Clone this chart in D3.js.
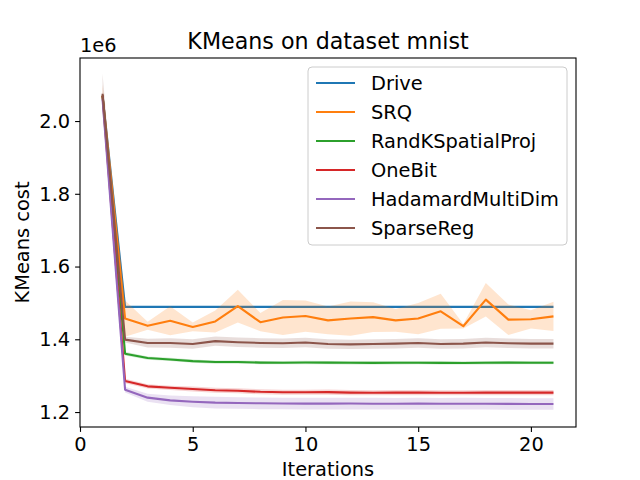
<!DOCTYPE html>
<html>
<head>
<meta charset="utf-8">
<script src="https://cdn.jsdelivr.net/npm/d3@7"></script>
<style>
  body { margin: 0; background: #fff; }
  text { font-family: "DejaVu Sans", sans-serif; fill: #000; }
</style>
</head>
<body>
<div id="chart"></div>
<script>
(function(){

  var width = 640;
  var height = 480;
  var margin = {top: 58, right: 64, bottom: 53, left: 80};
  var fontSize = '19.4px';

  // iterations 1..21, costs in units of 1e6
  var iterations = d3.range(1, 22);
  var xTicks = [0, 5, 10, 15, 20];
  var yTicks = [1.2, 1.4, 1.6, 1.8, 2.0];

  var seriesNames = ['Drive', 'SRQ', 'RandKSpatialProj', 'OneBit', 'HadamardMultiDim', 'SparseReg'];
  var colors = ['#1f77b4', '#ff7f0e', '#2ca02c', '#d62728', '#9467bd', '#8c564b'];

  var driveMean = [2.07, 1.489, 1.489, 1.489, 1.489, 1.489, 1.489, 1.489, 1.489, 1.489, 1.489,
                   1.489, 1.489, 1.489, 1.489, 1.489, 1.489, 1.489, 1.489, 1.489, 1.489];
  var driveSd   = [0.005, 0, 0, 0, 0, 0, 0, 0, 0, 0, 0, 0, 0, 0, 0, 0, 0, 0, 0, 0, 0];

  var srqMean = [2.07, 1.457, 1.437, 1.451, 1.434, 1.449, 1.491, 1.447, 1.460, 1.464, 1.452,
                 1.457, 1.461, 1.452, 1.457, 1.477, 1.436, 1.509, 1.454, 1.455, 1.463];
  var srqSd   = [0.03, 0.050, 0.011, 0.040, 0.012, 0.030, 0.045, 0.025, 0.048, 0.043, 0.038,
                 0.047, 0.041, 0.031, 0.043, 0.048, 0.006, 0.046, 0.042, 0.025, 0.040];

  var randkMean = [2.07, 1.3605, 1.3485, 1.3445, 1.340, 1.3375, 1.3375, 1.336, 1.3357, 1.3362, 1.3358,
                   1.3355, 1.3352, 1.3355, 1.3356, 1.3352, 1.335, 1.3355, 1.3358, 1.3356, 1.3357];
  var randkSd   = [0.01, 0.005, 0.0045, 0.0045, 0.0045, 0.0045, 0.0045, 0.0045, 0.0045, 0.0045, 0.0045,
                   0.0045, 0.0045, 0.0045, 0.0045, 0.0045, 0.0045, 0.0045, 0.0045, 0.0045, 0.0045];

  var onebitMean = [2.07, 1.2852, 1.2707, 1.2666, 1.2633, 1.260, 1.2585, 1.2557, 1.2545, 1.2545, 1.2548,
                    1.2535, 1.253, 1.2533, 1.2535, 1.253, 1.253, 1.2533, 1.2535, 1.2533, 1.2533];
  var onebitSd   = [0.01, 0.006, 0.006, 0.006, 0.007, 0.007, 0.007, 0.007, 0.007, 0.007, 0.007,
                    0.007, 0.007, 0.007, 0.007, 0.007, 0.007, 0.007, 0.007, 0.007, 0.007];

  var hadamardMean = [2.06, 1.2616, 1.2396, 1.2322, 1.2285, 1.2258, 1.2248, 1.224, 1.2235, 1.2232, 1.2232,
                      1.2233, 1.223, 1.2228, 1.2232, 1.2228, 1.223, 1.2228, 1.2226, 1.2222, 1.222];
  var hadamardSd   = [0.02, 0.008, 0.011, 0.013, 0.015, 0.016, 0.016, 0.016, 0.016, 0.016, 0.016,
                      0.016, 0.016, 0.016, 0.016, 0.016, 0.016, 0.016, 0.016, 0.016, 0.016];

  var sparseMean = [2.075, 1.399, 1.3897, 1.3897, 1.387, 1.395, 1.392, 1.390, 1.389, 1.391, 1.387,
                    1.386, 1.387, 1.388, 1.390, 1.387, 1.388, 1.391, 1.389, 1.388, 1.388];
  var sparseSd   = [0.055, 0.008, 0.012, 0.013, 0.013, 0.013, 0.013, 0.013, 0.013, 0.013, 0.013,
                    0.013, 0.013, 0.013, 0.013, 0.013, 0.013, 0.013, 0.013, 0.013, 0.013];

  var means = [driveMean, srqMean, randkMean, onebitMean, hadamardMean, sparseMean];
  var sds = [driveSd, srqSd, randkSd, onebitSd, hadamardSd, sparseSd];

  var series = seriesNames.map(function(name, i){
    return {
      name: name,
      color: colors[i],
      values: iterations.map(function(it, j){
        return {x: it, y: means[i][j], sd: sds[i][j]};
      })
    };
  });

  var svg = d3.select('#chart')
        .append('svg')
        .attr('width', width)
        .attr('height', height);

  var innerW = width - margin.left - margin.right;
  var innerH = height - margin.top - margin.bottom;

  var x = d3.scaleLinear().domain([0, 22]).range([margin.left, margin.left + innerW]);
  var y = d3.scaleLinear().domain([1.1589, 2.1733]).range([margin.top + innerH, margin.top]);

  var line = d3.line()
        .x(function(d){ return x(d.x); })
        .y(function(d){ return y(d.y); });

  var band = d3.area()
        .x(function(d){ return x(d.x); })
        .y0(function(d){ return y(d.y - d.sd); })
        .y1(function(d){ return y(d.y + d.sd); });

  var plot = svg.append('g');

  series.forEach(function(s){
    plot.append('path')
      .attr('d', line(s.values))
      .attr('fill', 'none')
      .attr('stroke', s.color)
      .attr('stroke-width', 2.1)
      .attr('stroke-linejoin', 'round');
    plot.append('path')
      .attr('d', band(s.values))
      .attr('fill', s.color)
      .attr('fill-opacity', 0.2)
      .attr('stroke', 'none');
  });

  // axes
  var xAxis = d3.axisBottom(x).tickValues(xTicks).tickSize(4.9).tickPadding(4.9);
  var yAxis = d3.axisLeft(y).tickValues(yTicks).tickSize(4.9).tickPadding(4.9)
        .tickFormat(d3.format('.1f'));

  var gx = svg.append('g')
        .attr('transform', 'translate(0,' + (margin.top + innerH) + ')')
        .call(xAxis);
  var gy = svg.append('g')
        .attr('transform', 'translate(' + margin.left + ',0)')
        .call(yAxis);

  [gx, gy].forEach(function(g){
    g.select('.domain').remove();
    g.selectAll('.tick line').attr('stroke', '#000').attr('stroke-width', 1.1);
    g.selectAll('.tick text')
      .attr('font-size', fontSize)
      .attr('font-family', 'DejaVu Sans, sans-serif')
      .attr('fill', '#000');
  });

  svg.append('rect')
    .attr('x', margin.left)
    .attr('y', margin.top)
    .attr('width', innerW)
    .attr('height', innerH)
    .attr('fill', 'none')
    .attr('stroke', '#000')
    .attr('stroke-width', 1.1);

  // labels
  svg.append('text')
    .text('KMeans on dataset mnist')
    .attr('x', margin.left + innerW / 2)
    .attr('y', 49)
    .attr('text-anchor', 'middle')
    .attr('font-size', '22.2px');

  svg.append('text')
    .text('1e6')
    .attr('x', margin.left)
    .attr('y', 52)
    .attr('font-size', fontSize);

  svg.append('text')
    .text('Iterations')
    .attr('x', margin.left + innerW / 2)
    .attr('y', 476)
    .attr('text-anchor', 'middle')
    .attr('font-size', fontSize);

  svg.append('text')
    .text('KMeans cost')
    .attr('transform', 'translate(29,' + (margin.top + innerH / 2) + ') rotate(-90)')
    .attr('text-anchor', 'middle')
    .attr('font-size', fontSize);

  // legend
  var legend = svg.append('g');
  legend.append('rect')
    .attr('x', 308)
    .attr('y', 67)
    .attr('width', 259)
    .attr('height', 178)
    .attr('rx', 4)
    .attr('fill', '#fff')
    .attr('fill-opacity', 0.8)
    .attr('stroke', '#cccccc')
    .attr('stroke-width', 1);

  var rows = legend.selectAll('g.row')
        .data(series)
        .enter()
        .append('g')
        .attr('class', 'row')
        .attr('transform', function(d, i){ return 'translate(0,' + (83 + i * 29) + ')'; });

  rows.append('line')
    .attr('x1', 316).attr('x2', 355)
    .attr('y1', 0).attr('y2', 0)
    .attr('stroke', function(d){ return d.color; })
    .attr('stroke-width', 2.1);

  rows.append('text')
    .text(function(d){ return d.name; })
    .attr('x', 371)
    .attr('y', 7)
    .attr('font-size', fontSize);

})();
</script>
</body>
</html>
